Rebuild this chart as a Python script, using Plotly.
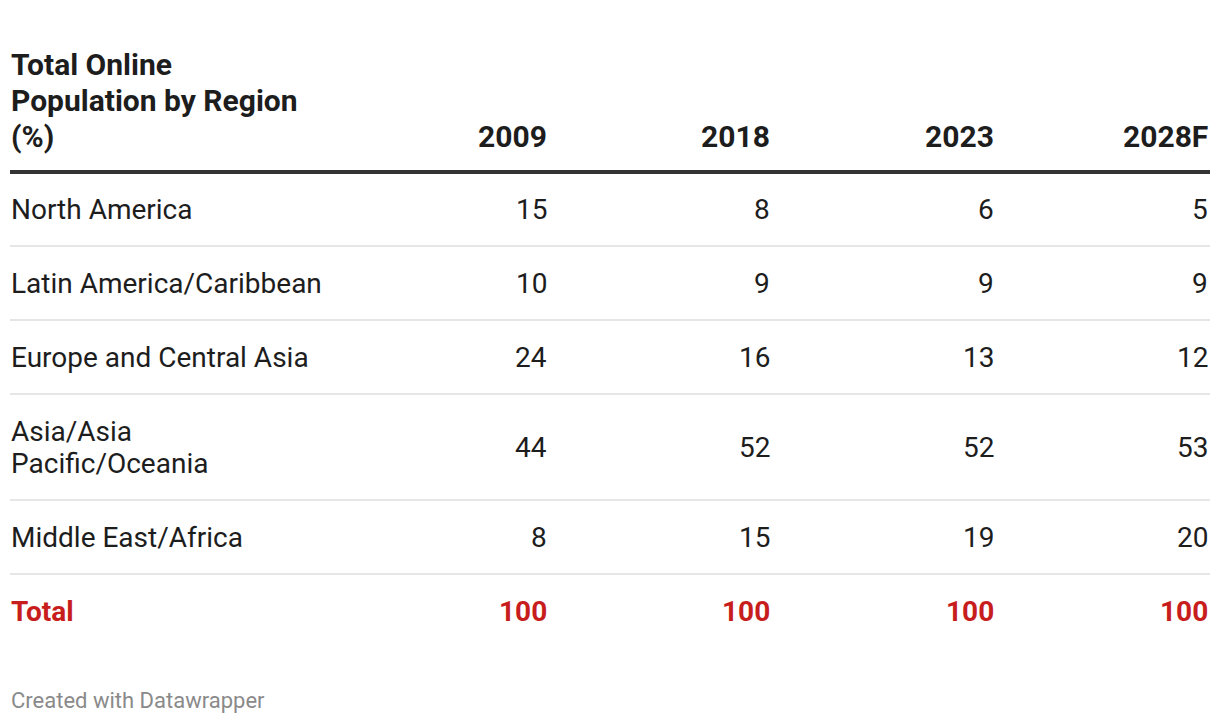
import plotly.graph_objects as go

# ---- data ----
title_lines = ["Total Online", "Population by Region", "(%)"]
years = ["2009", "2018", "2023", "2028F"]
regions = [
    "North America",
    "Latin America/Caribbean",
    "Europe and Central Asia",
    "Asia/Asia<br>Pacific/Oceania",
    "Middle East/Africa",
]
v2009 = [15, 10, 24, 44, 8]
v2018 = [8, 9, 16, 52, 15]
v2023 = [6, 9, 13, 52, 19]
v2028 = [5, 9, 12, 53, 20]
total_label = "Total"
totals = [100, 100, 100, 100]
footer = "Created with Datawrapper"

# ---- layout constants ----
W, H = 1220, 724
LEFT = 10
RIGHT = 1210
col_right = [548, 771, 995, 1209]
header_line_y = 172
header_gap = 36
title_line_h = 36
base_row_h = 74
extra_line_h = 32
FONT = "Roboto"
TXT = "#1d1d1d"
RED = "#c71e1d"
HEAD_SIZE = 30
BODY_SIZE = 28

series = [v2009, v2018, v2023, v2028]

annotations = []
shapes = []


def ann(x, y, text, anchor, size, color, bold=False):
    annotations.append(dict(
        x=x, y=y, xref="x", yref="y", xanchor=anchor, yanchor="middle",
        text=text, showarrow=False, align=anchor, borderpad=0,
        font=dict(family=FONT, size=size, color=color, weight=700 if bold else 400),
    ))


# header
header_y = header_line_y - header_gap
n_t = len(title_lines)
for k, line in enumerate(title_lines):
    ann(LEFT, header_y - title_line_h * (n_t - 1 - k), line, "left", HEAD_SIZE, TXT, True)
for j, yr in enumerate(years):
    ann(col_right[j], header_y, yr, "right", HEAD_SIZE, TXT, True)
shapes.append(dict(type="line", xref="x", yref="y", x0=LEFT, x1=RIGHT,
                   y0=header_line_y, y1=header_line_y, line=dict(color="#333333", width=4)))

# body rows
y = header_line_y
for i, reg in enumerate(regions):
    parts = reg.split("<br>")
    nlines = len(parts)
    h = base_row_h + extra_line_h * (nlines - 1)
    cy = y + h / 2
    for k, p in enumerate(parts):
        ann(LEFT, cy + extra_line_h * (k - (nlines - 1) / 2), p, "left", BODY_SIZE, TXT)
    for j in range(len(years)):
        ann(col_right[j], cy, str(series[j][i]), "right", BODY_SIZE, TXT)
    y += h
    shapes.append(dict(type="line", xref="x", yref="y", x0=LEFT, x1=RIGHT,
                       y0=y, y1=y, line=dict(color="#e6e6e6", width=2)))

# total row
cy = y + base_row_h / 2
ann(LEFT, cy, total_label, "left", BODY_SIZE, RED, True)
for j in range(len(years)):
    ann(col_right[j], cy, str(totals[j]), "right", BODY_SIZE, RED, True)

# footer
ann(LEFT, 700, footer, "left", 22, "#8a8a8a")

fig = go.Figure()
fig.add_trace(go.Scatter(x=[], y=[], mode="markers", showlegend=False, hoverinfo="skip"))
fig.update_layout(
    width=W, height=H,
    margin=dict(l=0, r=0, t=0, b=0),
    paper_bgcolor="white", plot_bgcolor="white",
    xaxis=dict(range=[0, W], visible=False, fixedrange=True),
    yaxis=dict(range=[H, 0], visible=False, fixedrange=True),
    annotations=annotations, shapes=shapes, showlegend=False,
)
fig.write_html("out.html", config={"displayModeBar": False},
               post_script="document.body.style.margin='0';document.body.style.overflow='hidden';")
